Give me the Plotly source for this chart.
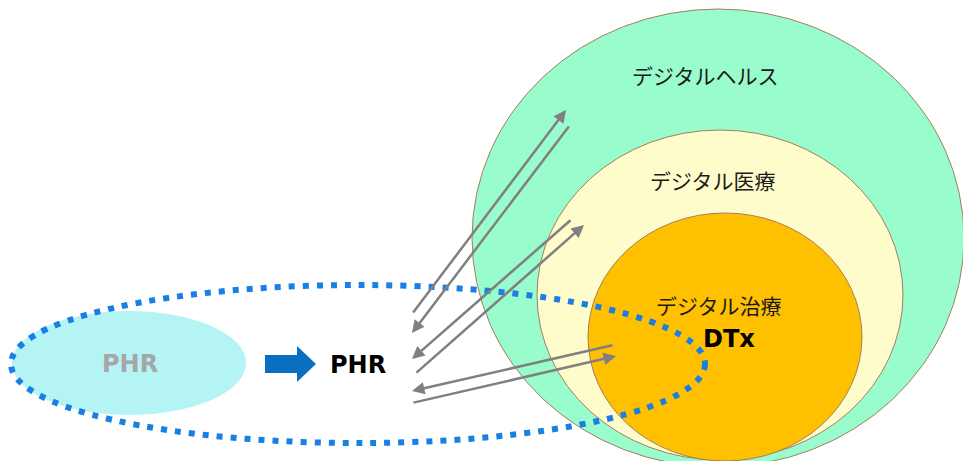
import plotly.graph_objects as go

W, H = 963, 461

# Nested regions (pixel-space diagram coordinates)
region_labels = ["デジタルヘルス", "デジタル医療", "デジタル治療"]
region_cx = [718, 720, 725]
region_cy = [238, 295, 337]
region_rx = [246, 183, 137]
region_ry = [229, 165, 124]
region_fill = ["#98fccc", "#fffccc", "#ffc000"]
label_x = [705, 713, 719]
label_y = [75, 180, 305]

# PHR bubble
phr_cx, phr_cy, phr_rx, phr_ry = 129, 363, 117, 52
# Dotted PHR domain
dom_cx, dom_cy, dom_rx, dom_ry = 358, 364, 347, 79

# Arrows: (tail_x, tail_y, head_x, head_y)
arrow_tail_x = [412, 570, 572, 415, 614, 412]
arrow_tail_y = [314, 125, 219, 374, 345, 403]
arrow_head_x = [566, 412, 412, 584, 412, 616]
arrow_head_y = [110, 333, 359, 225, 391, 356]

fig = go.Figure()
fig.add_trace(go.Scatter(x=[0, W], y=[0, H], mode="markers",
                         marker=dict(opacity=0), hoverinfo="skip", showlegend=False))

shapes = []
for cx, cy, rx, ry, fc in zip(region_cx, region_cy, region_rx, region_ry, region_fill):
    shapes.append(dict(type="circle", xref="x", yref="y",
                       x0=cx - rx, x1=cx + rx, y0=cy - ry, y1=cy + ry,
                       fillcolor=fc, line=dict(color="#a57e5c", width=1), layer="below"))
shapes.append(dict(type="circle", xref="x", yref="y",
                   x0=phr_cx - phr_rx, x1=phr_cx + phr_rx,
                   y0=phr_cy - phr_ry, y1=phr_cy + phr_ry,
                   fillcolor="#b5f4f5", line=dict(width=0), layer="below"))
shapes.append(dict(type="circle", xref="x", yref="y",
                   x0=dom_cx - dom_rx, x1=dom_cx + dom_rx,
                   y0=dom_cy - dom_ry, y1=dom_cy + dom_ry,
                   fillcolor="rgba(0,0,0,0)",
                   line=dict(color="#1a7fe3", width=6, dash="6px,8px"), layer="above"))
# Blue block arrow
shapes.append(dict(type="path", xref="x", yref="y",
                   path="M 265 355 L 297 355 L 297 346 L 316 364 L 297 382 L 297 373 L 265 373 Z",
                   fillcolor="#0a6fc2", line=dict(width=0), layer="above"))

annotations = []
for lab, lx, ly in zip(region_labels, label_x, label_y):
    annotations.append(dict(x=lx, y=ly, xref="x", yref="y", text=lab, showarrow=False,
                            font=dict(family="Noto Sans CJK JP", size=21, color="#1a1a1a")))
annotations.append(dict(x=729, y=339, xref="x", yref="y", text="<b>DTx</b>", showarrow=False,
                        font=dict(family="DejaVu Sans", size=24, color="#000000")))
annotations.append(dict(x=130, y=364, xref="x", yref="y", text="<b>PHR</b>", showarrow=False,
                        font=dict(family="DejaVu Sans", size=24, color="#a6a6a6")))
annotations.append(dict(x=358, y=365, xref="x", yref="y", text="<b>PHR</b>", showarrow=False,
                        font=dict(family="DejaVu Sans", size=24, color="#000000")))
for tx, ty, hx, hy in zip(arrow_tail_x, arrow_tail_y, arrow_head_x, arrow_head_y):
    annotations.append(dict(x=hx, y=hy, ax=tx, ay=ty, xref="x", yref="y",
                            axref="x", ayref="y", text="", showarrow=True,
                            arrowhead=2, arrowsize=1, arrowwidth=2.5,
                            arrowcolor="#808080"))

fig.update_layout(width=W, height=H, margin=dict(l=0, r=0, t=0, b=0),
                  paper_bgcolor="white", plot_bgcolor="white",
                  shapes=shapes, annotations=annotations, showlegend=False)
fig.update_xaxes(range=[0, W], visible=False, fixedrange=True)
fig.update_yaxes(range=[H, 0], visible=False, fixedrange=True)

fig.write_html("out.html", config={"displayModeBar": False})
